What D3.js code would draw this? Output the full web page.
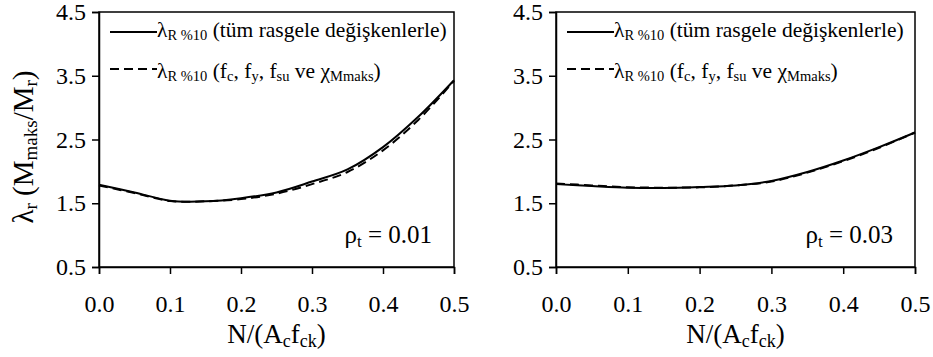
<!DOCTYPE html>
<html>
<head>
<meta charset="utf-8">
<script src="https://cdn.jsdelivr.net/npm/d3@7"></script>
<style>
  body { margin: 0; background: #fff; }
</style>
</head>
<body>
<div id="chart"></div>
<script>
// N/(Ac fck) values
var nValues = [0.0, 0.05, 0.1, 0.15, 0.2, 0.25, 0.3, 0.35, 0.4, 0.45, 0.5];

// rho_t = 0.01
var left_all = [1.79, 1.67, 1.54, 1.53, 1.58, 1.67, 1.84, 2.03, 2.38, 2.86, 3.43];
var left_sel = [1.78, 1.66, 1.535, 1.53, 1.565, 1.65, 1.80, 1.99, 2.33, 2.81, 3.42];

// rho_t = 0.03
var right_all = [1.80, 1.77, 1.745, 1.74, 1.755, 1.78, 1.85, 1.99, 2.17, 2.38, 2.61];
var right_sel = [1.81, 1.78, 1.75, 1.745, 1.75, 1.78, 1.84, 1.98, 2.16, 2.37, 2.61];

var xTicks = [0.0, 0.1, 0.2, 0.3, 0.4, 0.5];
var yTicks = [0.5, 1.5, 2.5, 3.5, 4.5];
var rhoLabels = ["0.01", "0.03"];

var FONT = "'Liberation Serif'";

var svg = d3.select("#chart")
    .append("svg")
    .attr("width", 933)
    .attr("height", 357)
    .style("font-family", FONT);

drawPanel(99, 454, left_all, left_sel, rhoLabels[0], true);
drawPanel(556, 915, right_all, right_sel, rhoLabels[1], false);

// main text + subscripts, parts = [[text, isSub], ...]
function richText(t, parts, big, small, shift) {
    var prev = false;
    parts.forEach(function (p) {
        var s = t.append("tspan").text(p[0]);
        if (p[1]) s.style("font-size", small + "px");
        if (p[1] !== prev) s.attr("dy", p[1] ? shift : -shift);
        prev = p[1];
    });
    t.style("font-family", FONT).style("font-size", big + "px");
}

function drawPanel(x0, x1, allVals, selVals, rho, showYTitle) {
    var top = 12, bottom = 267;

    var x = d3.scaleLinear().domain([0, 0.5]).range([x0, x1]);
    var y = d3.scaleLinear().domain([0.5, 4.5]).range([bottom, top]);

    var g = svg.append("g");

    // frame
    g.append("rect")
        .attr("x", x0).attr("y", top)
        .attr("width", x1 - x0).attr("height", bottom - top)
        .style("fill", "none")
        .style("stroke", "#000")
        .style("stroke-width", 1.5);

    var xAxis = g.append("g")
        .attr("transform", "translate(0," + bottom + ")")
        .call(d3.axisBottom(x).tickValues(xTicks).tickSize(7).tickPadding(21)
            .tickFormat(d3.format(".1f")));
    var yAxis = g.append("g")
        .attr("transform", "translate(" + x0 + ",0)")
        .call(d3.axisLeft(y).tickValues(yTicks).tickSize(7).tickPadding(6)
            .tickFormat(d3.format(".1f")));

    [xAxis, yAxis].forEach(function (a) {
        a.attr("font-family", null);
        a.select(".domain").style("stroke", "#000").style("stroke-width", 1.5);
        a.selectAll(".tick line").style("stroke", "#000").style("stroke-width", 1.5);
        a.selectAll(".tick text")
            .style("font-family", FONT)
            .style("font-size", "24px")
            .style("fill", "#000");
    });

    var line = d3.line()
        .x(function (d, i) { return x(nValues[i]); })
        .y(function (d) { return y(d); })
        .curve(d3.curveCatmullRom);

    g.append("path")
        .datum(selVals)
        .attr("d", line)
        .style("fill", "none")
        .style("stroke", "#000")
        .style("stroke-width", 2)
        .style("stroke-dasharray", "9,5");

    g.append("path")
        .datum(allVals)
        .attr("d", line)
        .style("fill", "none")
        .style("stroke", "#000")
        .style("stroke-width", 2);

    // legend
    var lx = x0 + 11;
    g.append("line")
        .attr("x1", lx).attr("x2", lx + 47)
        .attr("y1", 32).attr("y2", 32)
        .style("stroke", "#000").style("stroke-width", 2);
    g.append("line")
        .attr("x1", lx).attr("x2", lx + 47)
        .attr("y1", 69).attr("y2", 69)
        .style("stroke", "#000").style("stroke-width", 2)
        .style("stroke-dasharray", "9,5");

    richText(g.append("text").attr("x", lx + 47).attr("y", 37),
        [["λ", false], ["R %10", true], [" (tüm rasgele değişkenlerle)", false]], 21.5, 14.5, 3);
    richText(g.append("text").attr("x", lx + 47).attr("y", 78),
        [["λ", false], ["R %10", true], [" (f", false], ["c", true], [", f", false], ["y", true],
         [", f", false], ["su", true], [" ve χ", false], ["Mmaks", true], [")", false]], 21.5, 14.5, 3);

    // rho label
    richText(g.append("text").attr("x", x1 - 22).attr("y", 243).attr("text-anchor", "end"),
        [["ρ", false], ["t", true], [" = " + rho, false]], 25, 17, 4);

    // x title
    richText(g.append("text").attr("x", (x0 + x1) / 2).attr("y", 343).attr("text-anchor", "middle"),
        [["N/(A", false], ["c", true], ["f", false], ["ck", true], [")", false]], 27, 18, 4);

    if (showYTitle) {
        richText(g.append("text")
                .attr("transform", "translate(33,147) rotate(-90)")
                .attr("text-anchor", "middle"),
            [["λ", false], ["r", true], [" (M", false], ["maks", true], ["/M", false], ["r", true], [")", false]],
            29, 19, 4);
    }
}
</script>
</body>
</html>
